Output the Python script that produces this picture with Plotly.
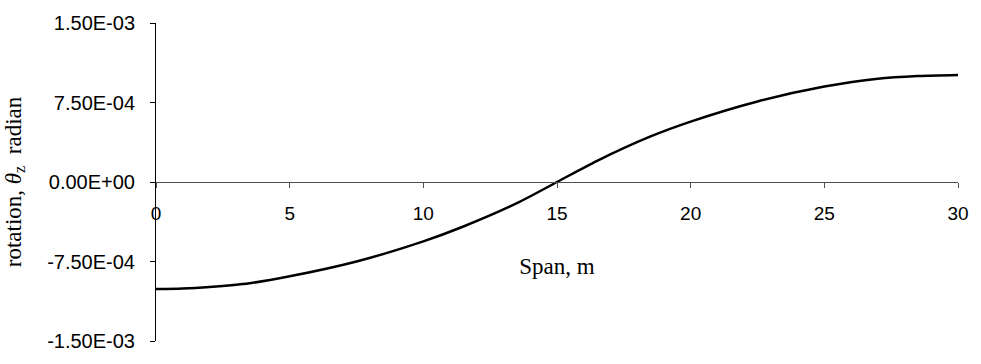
import plotly.graph_objects as go

span_m = [0, 1, 2, 3.5, 5, 7.5, 10, 11.5, 13.5, 15, 16.5, 18.5, 20, 22.5, 25, 27, 28.5, 30]
rotation_rad = [-1.01e-3, -1.005e-3, -0.99e-3, -0.955e-3, -0.89e-3, -0.75e-3, -0.56e-3, -0.42e-3,
                -0.20e-3, 0.0, 0.20e-3, 0.43e-3, 0.57e-3, 0.76e-3, 0.90e-3, 0.975e-3, 1.0e-3, 1.01e-3]

y_tickvals = [-1.5e-3, -7.5e-4, 0.0, 7.5e-4, 1.5e-3]
y_ticktext = ["-1.50E-03", "-7.50E-04", "0.00E+00", "7.50E-04", "1.50E-03"]
x_tickvals = [0, 5, 10, 15, 20, 25, 30]

fig = go.Figure()
fig.add_trace(go.Scatter(
    x=span_m, y=rotation_rad, mode="lines",
    line=dict(color="black", width=2.5, shape="spline", smoothing=0.8),
    showlegend=False, hoverinfo="skip", cliponaxis=False))

fig.update_layout(
    width=981, height=364,
    margin=dict(l=152, r=15, t=20, b=14),
    paper_bgcolor="white", plot_bgcolor="white",
    font=dict(family="Liberation Sans, Arial, sans-serif", size=20, color="black"),
    xaxis=dict(
        range=[0, 30], tickvals=x_tickvals,
        showgrid=False, zeroline=False,
        showline=True, linecolor="#505050", linewidth=1,
        ticks="outside", ticklen=5, tickcolor="#505050",
        tickfont=dict(size=19),
        anchor="free", position=0.5,
        ticklabelstandoff=9,
        title=dict(text="Span, m", standoff=35,
                   font=dict(family="Liberation Serif, Times New Roman, serif", size=23)),
    ),
    yaxis=dict(
        range=[-1.5e-3, 1.5e-3], tickvals=y_tickvals, ticktext=y_ticktext,
        showgrid=False, zeroline=False,
        showline=True, linecolor="black", linewidth=1,
        ticks="outside", ticklen=5, tickcolor="black",
        ticklabelstandoff=11,
        title=dict(text="rotation, <i>θ</i><sub>z</sub>  radian", standoff=19,
                   font=dict(family="Liberation Serif, Times New Roman, serif", size=23)),
    ),
)

fig.write_html("out.html", config={"displayModeBar": False},
               post_script="document.body.style.margin='0';document.body.style.overflow='hidden';")
